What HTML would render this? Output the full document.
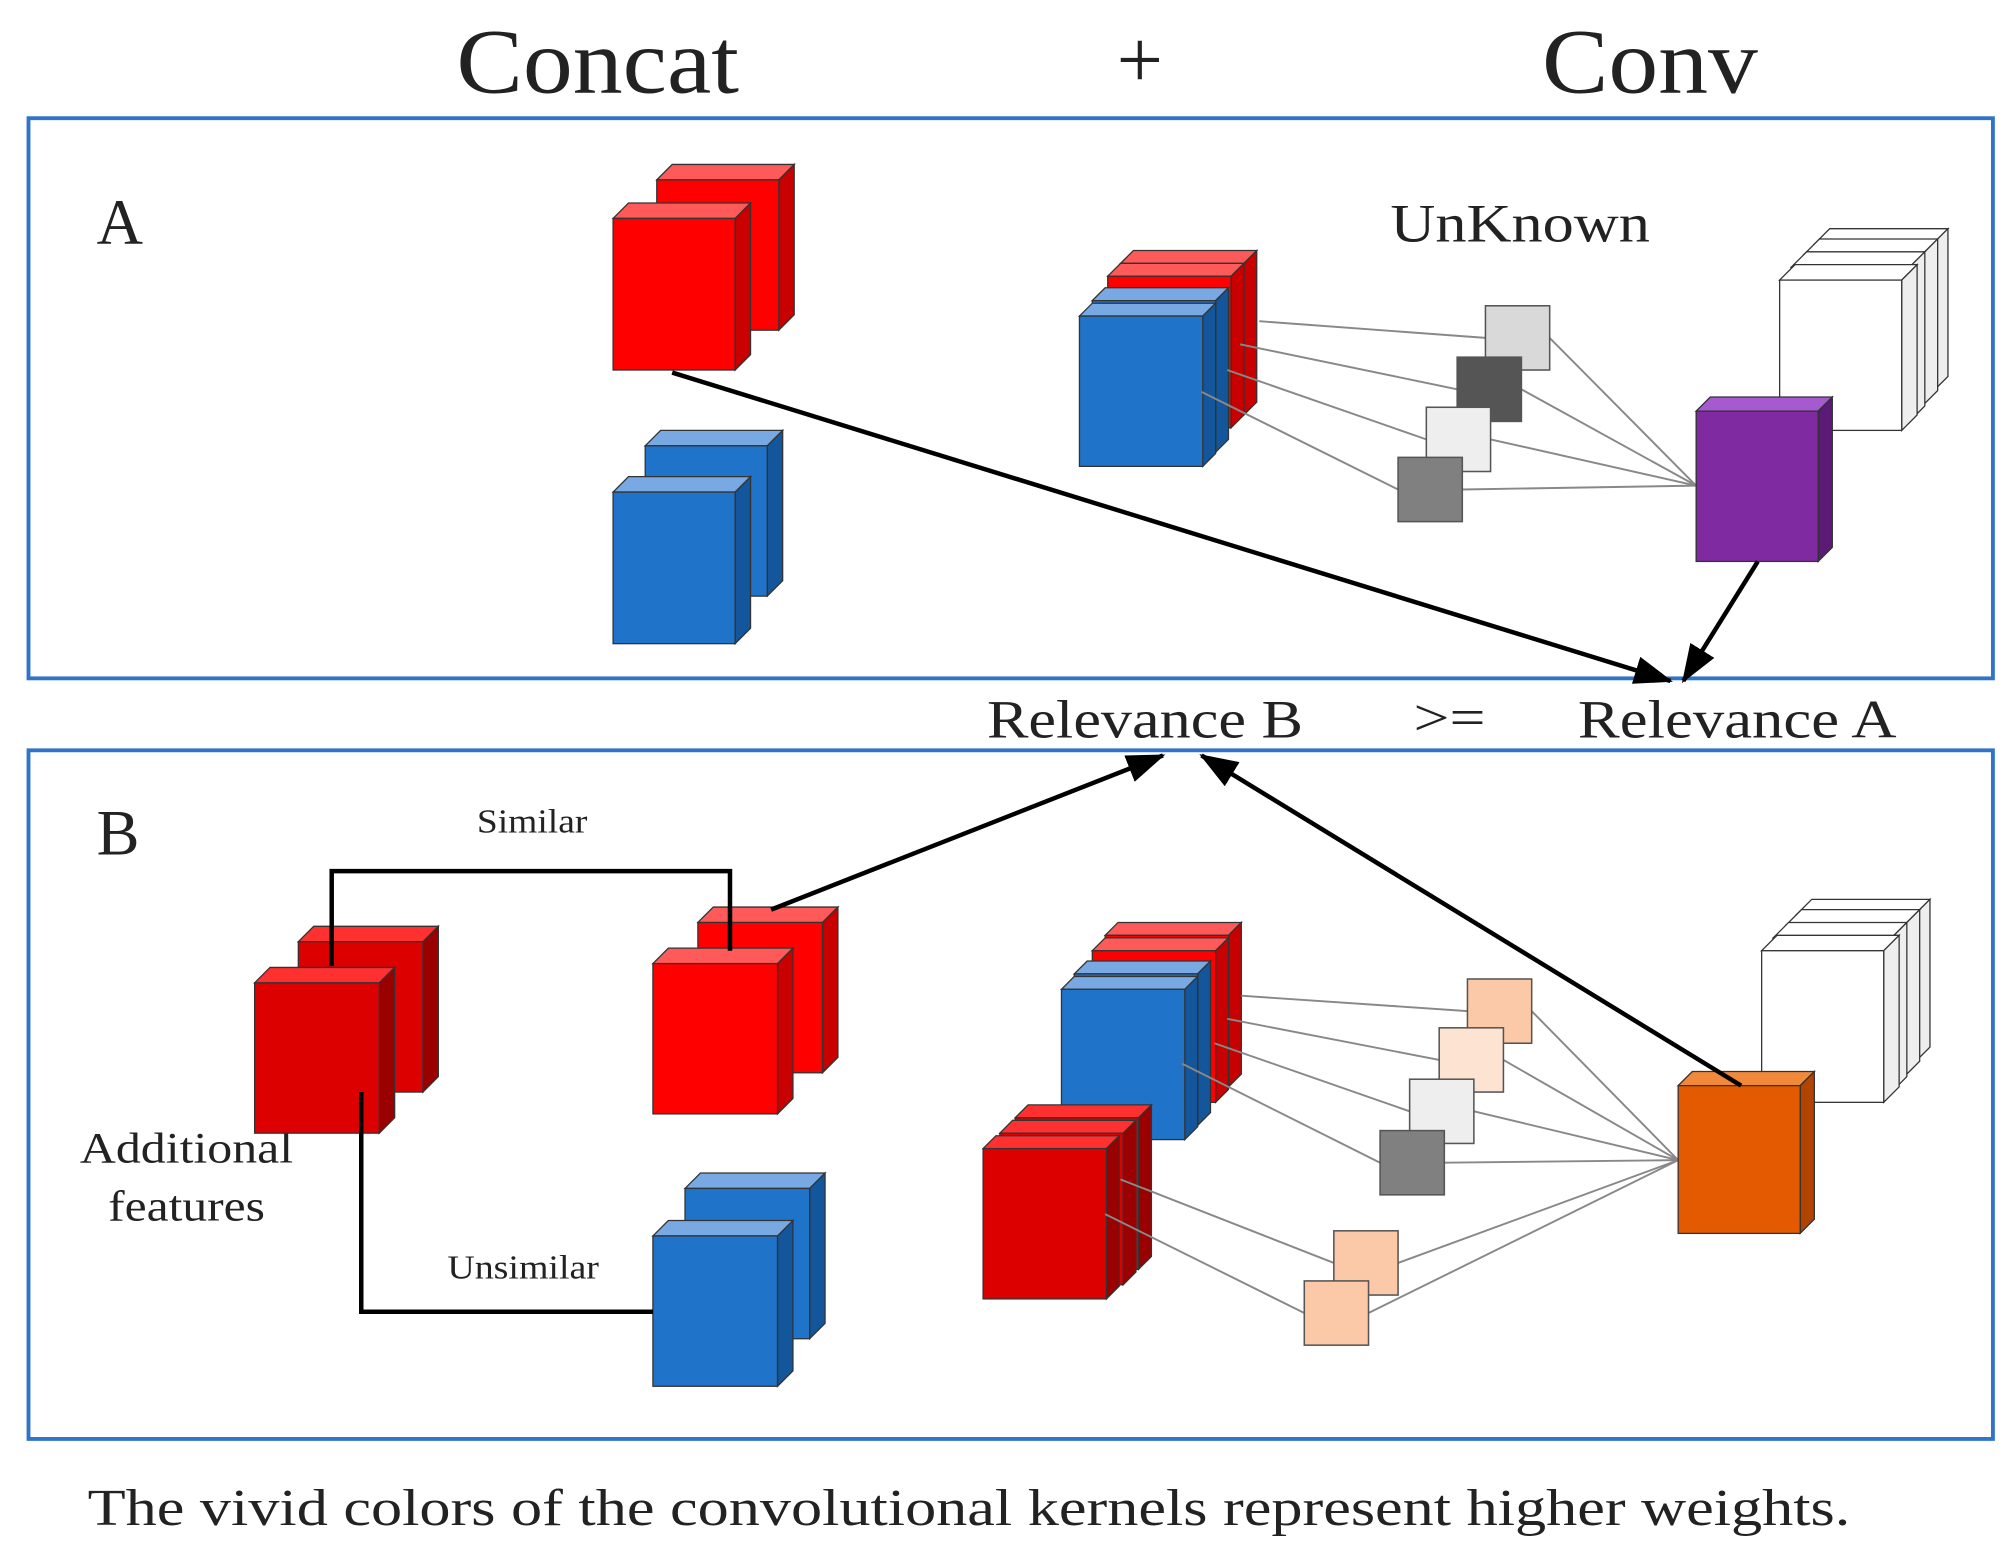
<!DOCTYPE html>
<html><head><meta charset="utf-8"><style>
html,body{margin:0;padding:0;background:#fff;}
svg{display:block;}
text{font-family:"Liberation Serif",serif;fill:#222;}
</style></head><body>
<svg id="s" width="2015" height="1561" viewBox="0 0 1568 1215" xmlns="http://www.w3.org/2000/svg">
<defs>
<marker id="ah2" markerWidth="30" markerHeight="22" refX="28" refY="11" orient="auto" markerUnits="userSpaceOnUse"><path d="M0,0 L30,11 L0,22 z" fill="#000"/></marker></defs>
<text x="355" y="72" font-size="72" textLength="220" lengthAdjust="spacingAndGlyphs">Concat</text>
<text x="887" y="68" font-size="64" text-anchor="middle">+</text>
<text x="1200" y="72" font-size="72" textLength="168" lengthAdjust="spacingAndGlyphs">Conv</text>
<rect x="22" y="92" width="1529" height="436" fill="none" stroke="#2f74c9" stroke-width="3"/>
<rect x="22" y="584" width="1529" height="536" fill="none" stroke="#2f74c9" stroke-width="3"/>
<text x="75" y="190" font-size="50">A</text>
<text x="75" y="665" font-size="50">B</text>
<text x="1082" y="188" font-size="42" textLength="202" lengthAdjust="spacingAndGlyphs">UnKnown</text>
<text x="768" y="574" font-size="42" textLength="246" lengthAdjust="spacingAndGlyphs">Relevance B</text>
<text x="1100" y="572" font-size="40" textLength="56" lengthAdjust="spacingAndGlyphs">&gt;=</text>
<text x="1228" y="574" font-size="42" textLength="248" lengthAdjust="spacingAndGlyphs">Relevance A</text>
<text x="371" y="648" font-size="26" textLength="86" lengthAdjust="spacingAndGlyphs">Similar</text>
<text x="348" y="995" font-size="26" textLength="118" lengthAdjust="spacingAndGlyphs">Unsimilar</text>
<text x="62" y="905" font-size="34" textLength="166" lengthAdjust="spacingAndGlyphs">Additional</text>
<text x="84" y="950" font-size="34" textLength="122" lengthAdjust="spacingAndGlyphs">features</text>
<text x="68" y="1187" font-size="40" textLength="1372" lengthAdjust="spacingAndGlyphs">The vivid colors of the convolutional kernels represent higher weights.</text>
<g id="g"></g>
</svg>
<script>
var g=document.getElementById('g'),NS="http://www.w3.org/2000/svg";
function el(t,a){var e=document.createElementNS(NS,t);for(var k in a)e.setAttribute(k,a[k]);g.appendChild(e);return e;}
var C={r:["#ff0000","#ff5a5a","#c80000"],dr:["#dd0000","#ff3030","#9a0000"],b:["#1f73c8","#78a9e2","#13569c"],w:["#ffffff","#ffffff","#eeeeee"],p:["#7f2aa0","#a55ad0","#5a1a75"],o:["#e35a00","#f08a3a","#b04400"]};
function cube(x,y,w,h,d,c){var s="#333";
el('polygon',{points:[x,y,x+d,y-d,x+w+d,y-d,x+w,y].join(' '),fill:C[c][1],stroke:s,'stroke-width':1});
el('polygon',{points:[x+w,y,x+w+d,y-d,x+w+d,y+h-d,x+w,y+h].join(' '),fill:C[c][2],stroke:s,'stroke-width':1});
el('rect',{x:x,y:y,width:w,height:h,fill:C[c][0],stroke:s,'stroke-width':1});}
function ln(a,b,c,d,col,w,m){var e=el('line',{x1:a,y1:b,x2:c,y2:d,stroke:col||'#888','stroke-width':w||1.5});if(m)e.setAttribute('marker-end','url(#ah2)');}
function sq(x,y,f){el('rect',{x:x,y:y,width:50,height:50,fill:f,stroke:'#555','stroke-width':1.2});}
// A
cube(511,140,95,117,12,'r');cube(477,170,95,118,12,'r');
cube(502,347,95,117,12,'b');cube(477,383,95,118,12,'b');
cube(1412,190,92,115,12,'w');cube(1404,198,92,118,12,'w');cube(1394,208,92,120,12,'w');cube(1385,218,95,117,12,'w');
cube(872,205,96,118,10,'r');cube(862,215,96,118,10,'r');cube(850,234,96,118,10,'b');cube(840,246,96,117,10,'b');
var ka=[[1156,238,'#d9d9d9'],[1134,278,'#555555'],[1110,317,'#eeeeee'],[1088,356,'#808080']];
var sa=[[980,250],[965,268],[955,288],[935,305]];
for(var i=0;i<4;i++){ln(sa[i][0],sa[i][1],ka[i][0],ka[i][1]+25);ln(ka[i][0]+50,ka[i][1]+25,1320,378);}
ka.forEach(function(k){sq(k[0],k[1],k[2]);});
cube(1320,320,95,117,11,'p');
ln(523,290,1300,530,'#000',3.5,1);ln(1368,437,1310,530,'#000',3.5,1);
// B
cube(1398,712,92,115,12,'w');cube(1390,720,92,118,12,'w');cube(1380,730,92,120,12,'w');cube(1371,740,95,118,12,'w');
cube(232,733,97,117,12,'dr');cube(198,765,97,117,12,'dr');
cube(543,718,97,117,12,'r');cube(508,750,97,117,12,'r');
cube(533,925,97,117,12,'b');cube(508,962,97,117,12,'b');
el('polyline',{points:"258,752 258,678 568,678 568,740",fill:'none',stroke:'#000','stroke-width':3.5});
el('polyline',{points:"281,850 281,1021 508,1021",fill:'none',stroke:'#000','stroke-width':3.5});
cube(860,728,96,118,10,'r');cube(850,740,96,118,10,'r');cube(836,758,96,118,10,'b');cube(826,770,96,117,10,'b');
cube(790,870,96,118,10,'dr');cube(778,882,96,118,10,'dr');cube(765,894,96,117,10,'dr');
var kb=[[1142,762,'#fcc9a8'],[1120,800,'#fde4d2'],[1097,840,'#eeeeee'],[1074,880,'#808080'],[1038,958,'#fcc9a8'],[1015,997,'#fcc9a8']];
var sb=[[966,775],[955,793],[945,812],[920,828],[872,918],[860,945]];
for(i=0;i<6;i++){ln(sb[i][0],sb[i][1],kb[i][0],kb[i][1]+25);ln(kb[i][0]+50,kb[i][1]+25,1306,903);}
kb.forEach(function(k){sq(k[0],k[1],k[2]);});
cube(1306,845,95,115,11,'o');
ln(600,708,905,588,'#000',3.5,1);ln(1355,845,935,588,'#000',3.5,1);
</script>
</body></html>
